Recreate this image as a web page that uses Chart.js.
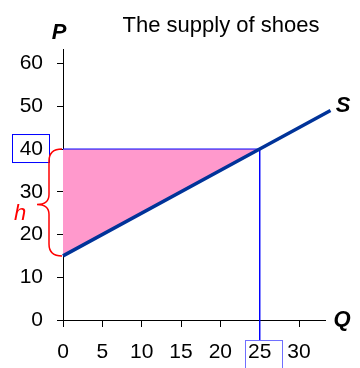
<!DOCTYPE html>
<html>
<head>
<meta charset="utf-8">
<script src="https://cdn.jsdelivr.net/npm/chart.js@4"></script>
<style>
  html, body { margin: 0; padding: 0; background: #fff; }
  #wrap { width: 360px; height: 368px; }
</style>
</head>
<body>
<div id="wrap"><canvas id="supplyChart"></canvas></div>
<script>
const qTicks = [0, 5, 10, 15, 20, 25, 30];
const pTicks = [0, 10, 20, 30, 40, 50, 60];
const supplyQ = [0, 25, 34];
const supplyP = [15, 40, 49];
const marketQ = 25;
const marketP = 40;
const minP = 15;
const guideBottomP = -4.8;

const font = '"Liberation Sans", Arial, sans-serif';

// title, axis letters, boxes and the brace are drawn on top
const notes = {
    id: 'notes',
    afterDraw(chart) {
        const ctx = chart.ctx;
        const x = chart.scales.x, y = chart.scales.y;
        ctx.save();
        ctx.fillStyle = '#000';
        ctx.textAlign = 'center';
        ctx.textBaseline = 'alphabetic';
        ctx.font = '22px ' + font;
        ctx.fillText('The supply of shoes', 221, 32);
        ctx.font = 'italic bold 22px ' + font;
        ctx.fillText('P', 59, 39);
        ctx.fillText('Q', 342, 326);
        ctx.fillText('S', 343, 112);

        // boxes round 40 and 25
        const py = y.getPixelForValue(marketP);
        ctx.strokeStyle = '#0000ff';
        ctx.lineWidth = 1;
        ctx.strokeRect(12.5, py - 14.5, 37, 28);
        const qx = x.getPixelForValue(marketQ);
        ctx.strokeStyle = '#6f6fff';
        ctx.strokeRect(Math.round(qx) - 14.5, y.getPixelForValue(guideBottomP), 37, 30);

        // brace for h
        const top = y.getPixelForValue(marketP);
        const bot = y.getPixelForValue(minP);
        const mid = (top + bot) / 2 + 2;
        const bx = 49, tipx = 37, ex = 62;
        ctx.strokeStyle = '#ff0000';
        ctx.lineWidth = 1.5;
        ctx.beginPath();
        ctx.moveTo(ex, top);
        ctx.quadraticCurveTo(bx, top, bx, top + 12);
        ctx.lineTo(bx, mid - 10);
        ctx.quadraticCurveTo(bx, mid, tipx, mid);
        ctx.quadraticCurveTo(bx, mid, bx, mid + 10);
        ctx.lineTo(bx, bot - 12);
        ctx.quadraticCurveTo(bx, bot, ex, bot);
        ctx.stroke();
        ctx.fillStyle = '#ff0000';
        ctx.font = 'italic 22px ' + font;
        ctx.fillText('h', 20, 220);
        ctx.restore();
    }
};

const ctx = document.getElementById('supplyChart').getContext('2d');
const supplyChart = new Chart(ctx, {
    type: 'scatter',
    data: {
        datasets: [{
            // pink area between price line and supply curve
            data: [{x: supplyQ[0], y: supplyP[0]}, {x: marketQ, y: marketP}],
            showLine: true,
            fill: {value: marketP},
            backgroundColor: '#ff99cc',
            borderWidth: 0,
            pointRadius: 0,
            order: 4
        }, {
            data: [{x: 0, y: marketP}, {x: marketQ, y: marketP}],
            showLine: true,
            borderColor: '#0000ff',
            borderWidth: 1,
            pointRadius: 0,
            fill: false,
            order: 3
        }, {
            data: [{x: marketQ, y: marketP}, {x: marketQ, y: guideBottomP}],
            showLine: true,
            borderColor: '#0000ff',
            borderWidth: 1,
            pointRadius: 0,
            fill: false,
            clip: false,
            order: 2
        }, {
            data: supplyQ.map((q, i) => ({x: q, y: supplyP[i]})),
            showLine: true,
            borderColor: '#003399',
            borderWidth: 3.5,
            pointRadius: 0,
            fill: false,
            clip: false,
            order: 1
        }]
    },
    options: {
        responsive: true,
        maintainAspectRatio: false,
        animation: false,
        layout: { padding: { top: 49, right: 35, left: 0, bottom: 0 } },
        plugins: {
            legend: { display: false },
            tooltip: { enabled: false }
        },
        scales: {
            x: {
                type: 'linear',
                min: 0,
                max: 33.3,
                afterBuildTicks: s => { s.ticks = qTicks.map(v => ({value: v})); },
                afterFit: s => { s.height = 48; },
                grid: { drawOnChartArea: false, drawTicks: true, tickLength: 7, color: '#000' },
                border: { display: true, color: '#000', width: 1 },
                ticks: { color: '#000', font: { family: font, size: 21 }, padding: 13, maxRotation: 0 }
            },
            y: {
                min: 0,
                max: 63.4,
                afterBuildTicks: s => { s.ticks = pTicks.map(v => ({value: v})); },
                afterFit: s => { s.width = 63; },
                grid: { drawOnChartArea: false, drawTicks: true, tickLength: 6, color: '#000' },
                border: { display: true, color: '#000', width: 1 },
                ticks: { color: '#000', font: { family: font, size: 21 }, padding: 14 }
            }
        }
    },
    plugins: [notes]
});
</script>
</body>
</html>
